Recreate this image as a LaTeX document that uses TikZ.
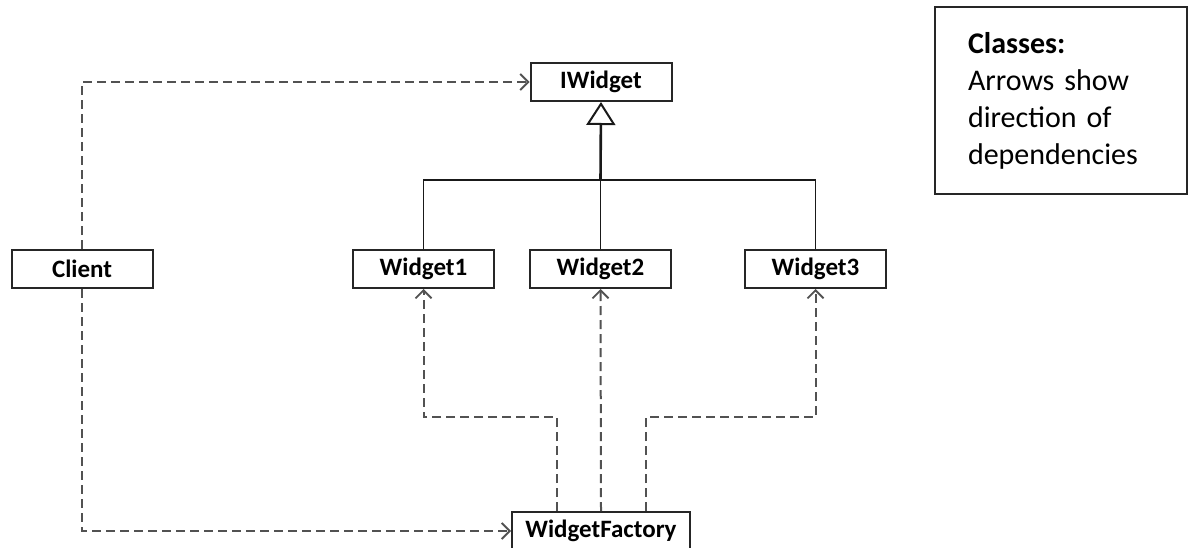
\documentclass[tikz,border=0pt]{standalone}
\usepackage{fontspec}
\setmainfont{Carlito}
\usetikzlibrary{arrows.meta}
\begin{document}
\begin{tikzpicture}[x=1pt,y=-1pt,
    cls/.style={draw=black!85, line width=2pt, minimum width=141pt, minimum height=38pt,
      inner sep=0pt, font=\fontsize{25}{30}\selectfont\bfseries},
    dep/.style={draw=black!68, line width=2pt, dash pattern=on 9pt off 5pt,
      -{Straight Barb[length=8pt,width=16pt,line width=1.8pt]}},
    inh/.style={draw=black!90, line width=1.9pt}]
                \useasboundingbox (0,0) rectangle (1188,548);
                \node[cls] (iwidget) at (601,82) {IWidget};
                \node[cls] (client) at (82,269) {Client};
                \node[cls] (widget1) at (423.5,269) {Widget1};
                \node[cls] (widget2) at (600.5,269) {Widget2};
                \node[cls] (widget3) at (815.5,269) {Widget3};
                \node[cls, minimum width=178pt] (factory) at (601,531) {WidgetFactory};
                \node[draw=black!85, line width=2pt, text width=186pt, inner xsep=33pt,
                  minimum height=187pt, align=left, font=\fontsize{30}{37}\selectfont]
                  (note) at (1061,100.5) {\textbf{Classes:}\\Arrows show\\direction of\\dependencies};
                % inheritance
                \coordinate (hub) at (600.5,180);
                \draw[inh] (widget1.north) |- (hub) -| (widget3.north);
                \draw[inh] (widget2.north) -- (hub);
                \draw[inh, line width=2.6pt, -{Triangle[open,length=23pt,width=29pt,line width=2pt]}] (hub) -- (iwidget.south);
                % dependencies
                \draw[dep] (client.north) |- (iwidget.west);
                \draw[dep] (client.south) |- (factory.west);
                \draw[dep] ([xshift=-44pt]factory.north) -- ++(0pt,94pt) -| (widget1.south);
                \draw[dep] (factory.north) -- (widget2.south);
                \draw[dep] ([xshift=45pt]factory.north) -- ++(0pt,94pt) -| (widget3.south);
            \end{tikzpicture}
\end{document}
